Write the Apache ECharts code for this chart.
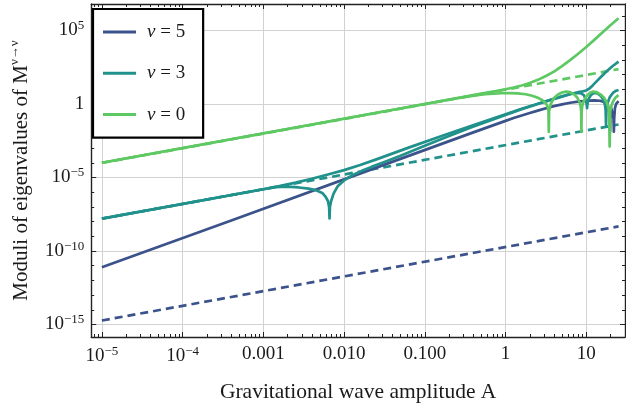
<!DOCTYPE html>
<html><head><meta charset="utf-8">
<script src="https://cdn.jsdelivr.net/npm/echarts@6/dist/echarts.min.js"></script>
<style>html,body{margin:0;padding:0;background:#fff}#c{width:626px;height:409px}</style>
</head><body><div id="c"></div>
<script>
// ---- tick labels ----
const xTickValues = [1e-5, 1e-4, 1e-3, 1e-2, 1e-1, 1, 10];
const xTickLabels = ['{b|10}{s|−5}', '{b|10}{s|−4}', '0.001', '0.010', '0.100', '1', '10'];
const yTickValues = [1e-15, 1e-10, 1e-5, 1, 1e5];
const yTickLabels = ['{b|10}{s|−15}', '{b|10}{s|−10}', '{b|10}{s|−5}', '1', '{b|10}{s|5}'];
const legendLabels = ['ν = 5', 'ν = 3', 'ν = 0'];
const colors = ['#3b528b', '#21918c', '#5ec962'];

// ---- data: pairs [log10 A, log10 |M|] ----
const nu5Solid = [[-5,-11.11],[-3.38,-7.89],[-1.66,-4.45],[-0.433,-2.0],[0,-1.15],[0.1,-0.96],[0.2,-0.78],[0.3,-0.61],[0.4,-0.45],[0.5,-0.29],[0.6,-0.15],[0.7,-0.03],[0.8,0.08],[0.9,0.16],[1.0,0.22],[1.1,0.25],[1.17,0.22],[1.22,0.14],[1.26,0.0],[1.28,-0.3],[1.29,-0.8],[1.295,-1.88],[1.30,-0.8],[1.31,-0.3],[1.32,-0.2],[1.33,-0.4],[1.338,-1.0],[1.342,-1.88],[1.346,-1.0],[1.355,-0.3],[1.37,0.0],[1.40,0.2]];
const nu5Dashed = [[-5,-14.73],[1.40,-8.33]];
const nu3SolidA = [[-5,-7.8],[-3.0,-5.8],[-2.8,-5.58],[-2.6,-5.35],[-2.4,-5.09],[-2.2,-4.8],[-2.0,-4.5],[-1.8,-4.15],[-1.6,-3.77],[-1.2,-2.97],[-0.8,-2.2],[-0.43,-1.5],[0,-0.7],[0.2,-0.33],[0.4,0.01],[0.55,0.27],[0.7,0.52],[0.8,0.68],[0.9,0.8],[0.96,0.86],[1.0,0.92],[1.04,1.05],[1.08,1.26],[1.125,1.52],[1.19,1.88],[1.25,2.2],[1.32,2.55],[1.40,2.88]];
const nu3SolidB = [[-5,-7.8],[-3.0,-5.8],[-2.85,-5.66],[-2.7,-5.62],[-2.56,-5.68],[-2.44,-5.76],[-2.34,-5.88],[-2.27,-6.05],[-2.23,-6.3],[-2.2,-6.6],[-2.185,-7.0],[-2.18,-7.78],[-2.175,-7.0],[-2.16,-6.6],[-2.13,-6.1],[-2.08,-5.6],[-2.0,-5.2],[-1.9,-4.85],[-1.78,-4.55],[-1.66,-4.28],[-1.5,-3.95],[-1.3,-3.52],[-1.0,-2.85],[-0.7,-2.18],[-0.43,-1.6],[0,-0.75],[0.2,-0.36],[0.4,0],[0.55,0.26],[0.7,0.5],[0.8,0.66],[0.88,0.74],[0.93,0.74],[0.97,0.6],[0.99,0.35],[1.005,0.0],[1.01,-0.29],[1.015,0.0],[1.03,0.35],[1.06,0.62],[1.1,0.75],[1.14,0.72],[1.18,0.55],[1.21,0.3],[1.23,0.0],[1.24,-0.4],[1.245,-1.43],[1.25,-0.4],[1.26,0.0],[1.29,0.45],[1.33,0.75],[1.37,0.9],[1.40,0.95]];
const nu3Dashed = [[-5,-7.8],[1.40,-1.4]];
const nu0SolidA = [[-5,-4.0],[-1,0.0],[-0.5,0.5],[-0.3,0.71],[-0.1,0.9],[0,1.0],[0.1,1.12],[0.2,1.26],[0.3,1.43],[0.4,1.64],[0.5,1.9],[0.6,2.2],[0.7,2.57],[0.8,2.98],[0.9,3.42],[1.0,3.88],[1.1,4.36],[1.2,4.86],[1.3,5.36],[1.40,5.83]];
const nu0SolidB = [[-5,-4.0],[-1,0.0],[-0.6,0.39],[-0.45,0.52],[-0.35,0.6],[-0.25,0.66],[-0.15,0.7],[-0.05,0.73],[0.05,0.74],[0.15,0.72],[0.25,0.66],[0.33,0.56],[0.4,0.42],[0.45,0.28],[0.49,0.1],[0.51,-0.05],[0.525,-0.25],[0.532,-0.5],[0.536,-1.9],[0.540,-0.5],[0.548,-0.25],[0.565,0.05],[0.6,0.4],[0.65,0.65],[0.7,0.78],[0.75,0.84],[0.8,0.8],[0.85,0.65],[0.89,0.42],[0.915,0.15],[0.93,-0.15],[0.937,-0.5],[0.94,-1.9],[0.943,-0.5],[0.95,-0.15],[0.965,0.15],[1.0,0.5],[1.04,0.74],[1.08,0.84],[1.13,0.8],[1.18,0.64],[1.22,0.42],[1.25,0.15],[1.27,-0.15],[1.283,-0.5],[1.29,-2.9],[1.297,-0.5],[1.31,-0.15],[1.33,0.15],[1.36,0.42],[1.40,0.6]];
const nu0Dashed = [[-5,-4.01],[1.40,2.37]];

const X_MIN = 7.38e-6, X_MAX = 30.2, Y_MIN = 1.41e-16, Y_MAX = 6.3e6;
const FONT = 'Liberation Serif';
const TXT = '#1a1a1a';

const xMinorValues = [];
for (let n = -6; n <= 1; n++) for (let k = 2; k <= 9; k++) { const v = k * Math.pow(10, n); if (v >= X_MIN && v <= X_MAX) xMinorValues.push(v); }
const yMinorValues = [];
for (let n = -15; n <= 6; n++) if (n % 5 !== 0) yMinorValues.push(Math.pow(10, n));

function toData(pts) { return pts.map(p => [Math.pow(10, p[0]), Math.pow(10, p[1])]); }
function labelFor(values, labels) {
  return v => { const l = Math.log10(v); for (let i = 0; i < values.length; i++) if (Math.abs(Math.log10(values[i]) - l) < 1e-6) return labels[i]; return ''; };
}
const rich = { b: { fontFamily: FONT, fontSize: 19, color: TXT, lineHeight: 22 }, s: { fontFamily: FONT, fontSize: 13, color: TXT, verticalAlign: 'top', lineHeight: 13 } };
const frame = { show: true, lineStyle: { color: '#222', width: 1.4 } };

function xAx(pos, major) {
  return {
    type: 'log', logBase: 10, min: X_MIN, max: X_MAX, position: pos,
    axisLine: major ? frame : { show: false },
    axisTick: { show: true, inside: true, length: major ? 5 : 3, customValues: major ? xTickValues : xMinorValues, lineStyle: { color: '#222', width: 1 } },
    axisLabel: (major && pos === 'bottom') ? { show: true, customValues: xTickValues, formatter: labelFor(xTickValues, xTickLabels), rich: rich, fontFamily: FONT, fontSize: 19, color: TXT, margin: 8 } : { show: false },
    splitLine: (major && pos === 'bottom') ? { show: true, lineStyle: { color: '#d2d2d2', width: 1 } } : { show: false },
    minorTick: { show: false }, minorSplitLine: { show: false },
    name: (major && pos === 'bottom') ? 'Gravitational wave amplitude A' : '',
    nameLocation: 'middle', nameGap: 44,
    nameTextStyle: { fontFamily: FONT, fontSize: 21.5, color: TXT }
  };
}
function yAx(pos, major) {
  return {
    type: 'log', logBase: 10, min: Y_MIN, max: Y_MAX, position: pos,
    axisLine: major ? frame : { show: false },
    axisTick: { show: true, inside: true, length: major ? 5 : 3, customValues: major ? yTickValues : yMinorValues, lineStyle: { color: '#222', width: 1 } },
    axisLabel: (major && pos === 'left') ? { show: true, customValues: yTickValues, formatter: labelFor(yTickValues, yTickLabels), rich: rich, fontFamily: FONT, fontSize: 19, color: TXT, margin: 7 } : { show: false },
    splitLine: (major && pos === 'left') ? { show: true, lineStyle: { color: '#d2d2d2', width: 1 } } : { show: false },
    minorTick: { show: false }, minorSplitLine: { show: false },
    name: (major && pos === 'left') ? 'Moduli of eigenvalues of M{s|ν→ν}' : '',
    nameLocation: 'middle', nameGap: 57, nameRotate: 90,
    nameTextStyle: { fontFamily: FONT, fontSize: 21, color: TXT, lineHeight: 26, rich: { s: { fontFamily: FONT, fontSize: 13, color: TXT, verticalAlign: 'top', lineHeight: 13 } } }
  };
}

function solid(name, pts, c) {
  return { name: name, type: 'line', data: toData(pts), symbol: 'none', showSymbol: false, smooth: false,
    lineStyle: { color: c, width: 2.7, join: 'round' }, itemStyle: { color: c }, emphasis: { disabled: true }, silent: true, z: 3 };
}
function dashed(name, pts, c) {
  return { name: name, type: 'line', data: toData(pts), symbol: 'none', showSymbol: false,
    lineStyle: { color: c, width: 2.7, type: [8, 5] }, itemStyle: { color: c }, emphasis: { disabled: true }, silent: true, z: 2 };
}

const chart = echarts.init(document.getElementById('c'), null, { renderer: 'canvas' });
chart.setOption({
  animation: false,
  backgroundColor: '#fff',
  grid: { left: 88, right: 1, top: 4, bottom: 72, containLabel: false },
  xAxis: [xAx('bottom', true), xAx('bottom', false), xAx('top', true), xAx('top', false)],
  yAxis: [yAx('left', true), yAx('left', false), yAx('right', true), yAx('right', false)],
  legend: {
    data: legendLabels, orient: 'vertical', left: 93, top: 9, icon: 'rect',
    backgroundColor: '#fff', borderColor: '#000', borderWidth: 2.2, borderRadius: 0,
    padding: [12, 18, 12, 10], itemGap: 19.3, itemWidth: 33, itemHeight: 3,
    formatter: n => '{i|ν}{t|' + n.slice(1) + '}',
    textStyle: { fontFamily: FONT, fontSize: 19, color: TXT, lineHeight: 22, rich: { i: { fontFamily: FONT, fontStyle: 'italic', fontSize: 19, color: TXT, lineHeight: 22, padding: [0, 0, 0, 6] }, t: { fontFamily: FONT, fontSize: 19, color: TXT, lineHeight: 22 } } },
    selectedMode: false
  },
  series: [
    solid(legendLabels[0], nu5Solid, colors[0]),
    dashed('nu5 asymptote', nu5Dashed, colors[0]),
    solid(legendLabels[1], nu3SolidA, colors[1]),
    solid('nu3 b', nu3SolidB, colors[1]),
    dashed('nu3 asymptote', nu3Dashed, colors[1]),
    solid(legendLabels[2], nu0SolidA, colors[2]),
    solid('nu0 b', nu0SolidB, colors[2]),
    dashed('nu0 asymptote', nu0Dashed, colors[2])
  ]
});
</script></body></html>
